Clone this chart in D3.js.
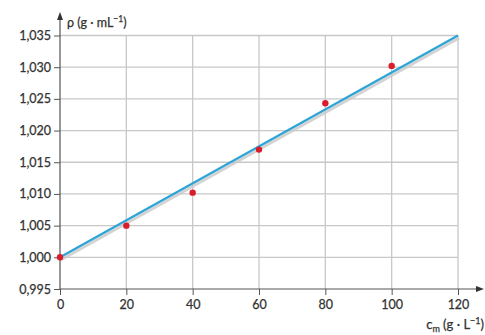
<!DOCTYPE html>
<html>
<head>
<meta charset="utf-8">
<script src="https://cdn.jsdelivr.net/npm/d3@7"></script>
<style>
  body { margin: 0; background: #fff; }
  text { font-family: Lato, "Open Sans", sans-serif; fill: #333; stroke: #333; stroke-width: 0.25; }
</style>
</head>
<body>
<svg id="chart" width="485" height="335"></svg>
<script>
const concentrations = [0, 20, 40, 60, 80, 100];
const densities = [1.000, 1.005, 1.0102, 1.017, 1.0243, 1.0302];
const fitLine = [[0, 1.000], [120, 1.035]];
const xTicks = [0, 20, 40, 60, 80, 100, 120];
const yTicks = [0.995, 1.000, 1.005, 1.010, 1.015, 1.020, 1.025, 1.030, 1.035];

const svg = d3.select("#chart");
const x = d3.scaleLinear().domain([0, 120]).range([60, 458]);
const y = d3.scaleLinear().domain([0.995, 1.035]).range([289, 35.5]);
const fmt = (d) => d3.format(".3f")(d).replace(".", ",");

// grid
svg.append("g")
  .selectAll("line.v")
  .data(xTicks.slice(1))
  .enter()
  .append("line")
  .attr("x1", (d) => x(d)).attr("x2", (d) => x(d))
  .attr("y1", y(0.995)).attr("y2", y(1.035))
  .attr("stroke", "#c8c8c8").attr("stroke-width", 1.3);

svg.append("g")
  .selectAll("line.h")
  .data(yTicks.slice(1))
  .enter()
  .append("line")
  .attr("x1", x(0)).attr("x2", x(120))
  .attr("y1", (d) => y(d)).attr("y2", (d) => y(d))
  .attr("stroke", "#c8c8c8").attr("stroke-width", 1.3);

// axes
const yAxis = svg.append("g")
  .attr("transform", `translate(${x(0)},0)`)
  .call(d3.axisLeft(y).tickValues(yTicks).tickFormat(fmt).tickSize(6).tickPadding(3));
const xAxis = svg.append("g")
  .attr("transform", `translate(0,${y(0.995)})`)
  .call(d3.axisBottom(x).tickValues(xTicks).tickSize(6).tickPadding(5));

[yAxis, xAxis].forEach((a) => {
  a.select(".domain").remove();
  a.selectAll(".tick line").attr("stroke", "#555");
  a.selectAll("text").attr("font-size", 12.5).attr("fill", "#333")
    .style("font-family", "Lato, 'Open Sans', sans-serif");
});

svg.append("line")
  .attr("x1", x(0)).attr("x2", 478)
  .attr("y1", y(0.995)).attr("y2", y(0.995))
  .attr("stroke", "#555").attr("stroke-width", 1.2);
svg.append("path")
  .attr("d", `M484,${y(0.995)} L476,${y(0.995) - 3} L476,${y(0.995) + 3} Z`)
  .attr("fill", "#333");

svg.append("line")
  .attr("x1", x(0)).attr("x2", x(0))
  .attr("y1", y(0.995)).attr("y2", 18)
  .attr("stroke", "#555").attr("stroke-width", 1.2);
svg.append("path")
  .attr("d", `M${x(0)},12 L${x(0) - 3},20 L${x(0) + 3},20 Z`)
  .attr("fill", "#333");

// axis titles
svg.append("text")
  .attr("x", 67).attr("y", 27)
  .attr("font-size", 12.5)
  .html('ρ (g · mL<tspan dy="-5" font-size="8.5">−1</tspan><tspan dy="5">)</tspan>');

svg.append("text")
  .attr("x", 484).attr("y", 329)
  .attr("text-anchor", "end")
  .attr("font-size", 13)
  .html('c<tspan dy="3" font-size="9">m</tspan><tspan dy="-3"> (g · L</tspan><tspan dy="-5" font-size="9">−1</tspan><tspan dy="5">)</tspan>');

// fit line with soft shadow
const line = d3.line().x((d) => x(d[0])).y((d) => y(d[1]));
svg.append("path")
  .attr("d", line(fitLine))
  .attr("transform", "translate(1,2.5)")
  .attr("fill", "none")
  .attr("stroke", "#c8c8c8")
  .attr("stroke-width", 3)
  .attr("opacity", 0.8);
svg.append("path")
  .attr("d", line(fitLine))
  .attr("fill", "none")
  .attr("stroke", "#2ea4d6")
  .attr("stroke-width", 2.2);

// points
svg.append("g")
  .selectAll("circle")
  .data(concentrations)
  .enter()
  .append("circle")
  .attr("cx", (d) => x(d))
  .attr("cy", (d, i) => y(densities[i]))
  .attr("r", 3.2)
  .attr("fill", "#d81e2c");
</script>
</body>
</html>
